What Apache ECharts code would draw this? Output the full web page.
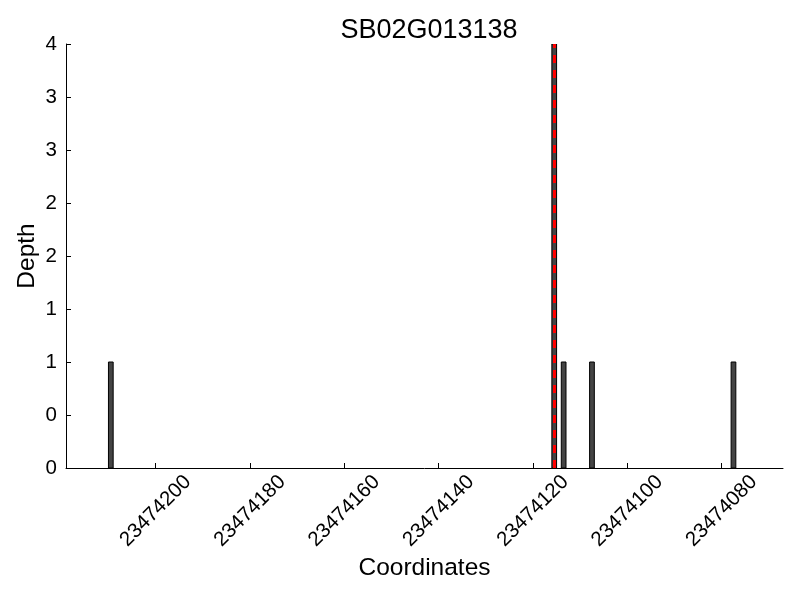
<!DOCTYPE html>
<html>
<head>
<meta charset="utf-8">
<script src="https://cdn.jsdelivr.net/npm/echarts@6/dist/echarts.min.js"></script>
<style>html,body{margin:0;padding:0;background:#fff}#c{width:800px;height:600px}</style>
</head>
<body>
<div id="c"></div>
<script>
const titleText = 'SB02G013138';
const xName = 'Coordinates';
const yName = 'Depth';
// bar start positions (each bar covers one base: [pos, pos+1])
const positions = [23474209, 23474115, 23474113, 23474107, 23474077];
const depths = [1, 4, 1, 1, 1];
const markerPosition = 23474115.5;
const xMin = 23474067, xMax = 23474219;
const xTicks = [23474200, 23474180, 23474160, 23474140, 23474120, 23474100, 23474080];
const yTicks = [0, 0.5, 1, 1.5, 2, 2.5, 3, 3.5, 4];
const yTickLabels = ['0', '0', '1', '1', '2', '2', '3', '3', '4'];

const font = 'Liberation Sans, Arial, Helvetica, sans-serif';
const chart = echarts.init(document.getElementById('c'), null, {renderer: 'canvas'});
const data = positions.map((p, i) => [p, depths[i]]);
chart.setOption({
  animation: false,
  backgroundColor: '#fff',
  title: {
    text: titleText, left: 424, top: 12, textAlign: 'center',
    textStyle: {fontFamily: font, fontSize: 27, fontWeight: 'normal', color: '#000'}
  },
  grid: {left: 66, right: 17, top: 44, bottom: 132, containLabel: false, outerBoundsMode: 'none'},
  xAxis: {
    type: 'value', inverse: true, min: xMin, max: xMax,
    name: xName, nameLocation: 'middle', nameGap: 88, nameMoveOverlap: false,
    nameTextStyle: {fontFamily: font, fontSize: 24.5, color: '#000'},
    axisLine: {show: true, onZero: false, lineStyle: {color: '#000', width: 1}},
    axisTick: {show: true, inside: true, length: 5, customValues: xTicks, lineStyle: {color: '#000'}},
    axisLabel: {
      customValues: xTicks, rotate: 45, align: 'center', verticalAlign: 'middle', margin: 43,
      fontFamily: font, fontSize: 20.5, color: '#000', formatter: v => String(v)
    },
    splitLine: {show: false}
  },
  yAxis: {
    type: 'value', min: 0, max: 4, interval: 0.5,
    name: yName, nameLocation: 'middle', nameGap: 26, nameMoveOverlap: false,
    nameTextStyle: {fontFamily: font, fontSize: 24.5, color: '#000'},
    axisLine: {show: true, lineStyle: {color: '#000', width: 1}},
    axisTick: {show: true, inside: true, length: 5, lineStyle: {color: '#000'}},
    axisLabel: {
      margin: 9, fontFamily: font, fontSize: 20.5, color: '#000',
      formatter: v => { const i = yTicks.indexOf(v); return i >= 0 ? yTickLabels[i] : ''; }
    },
    splitLine: {show: false}
  },
  series: [
    {
      type: 'custom',
      data: data,
      clip: true,
      renderItem: function (params, api) {
        const p = api.value(0), d = api.value(1);
        const a = api.coord([p, d]);
        const b = api.coord([p + 1, 0]);
        const x = Math.min(a[0], b[0]), w = Math.abs(b[0] - a[0]);
        return {
          type: 'rect',
          shape: {x: x, y: a[1], width: w, height: b[1] - a[1]},
          style: {fill: '#444444', stroke: '#000', lineWidth: 1}
        };
      },
      markLine: {
        silent: true, symbol: 'none', label: {show: false},
        lineStyle: {color: '#ff0000', width: 3, type: [8, 7]},
        data: [{xAxis: markerPosition}]
      },
      z: 2
    }
  ]
});
</script>
</body>
</html>
